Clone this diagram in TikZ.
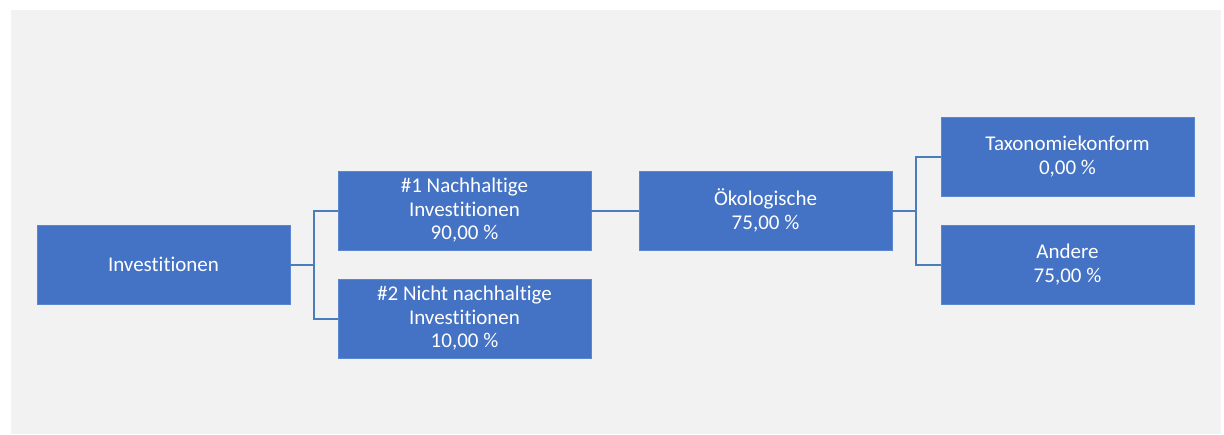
\documentclass[tikz,border=0pt]{standalone}
\usepackage{fontspec}
\setmainfont{Carlito}[Ligatures=NoCommon]
\usepackage{xcolor}
\definecolor{boxblue}{HTML}{4472C4}
\definecolor{boxedge}{HTML}{5B87D0}
\definecolor{linkblue}{HTML}{4A7EBB}
\definecolor{bggray}{HTML}{F2F2F2}

\begin{document}
\begin{tikzpicture}[
    x=1pt, y=-1pt,
    box/.style={draw=boxedge, fill=boxblue, text=white, minimum width=253pt, minimum height=79pt, align=center, inner sep=0pt, font=\fontsize{21}{23.5}\selectfont},
    conn/.style={draw=linkblue, line width=2pt}
]
\useasboundingbox (0,0) rectangle (1224,434);
\fill[bggray] (11,10) rectangle (1221,434);

\node[box] (inv) at (163.5,264.5) {Investitionen};
\node[box] (nh) at (464.5,210.5) {\#1 Nachhaltige\\Investitionen\\90,00 \%};
\node[box] (nnh) at (464.5,318.5) {\#2 Nicht nachhaltige\\Investitionen\\10,00 \%};
\node[box] (oeko) at (765.5,210.5) {Ökologische\\75,00 \%};
\node[box] (taxo) at (1067.5,156.5) {Taxonomiekonform\\0,00 \%};
\node[box] (andere) at (1067.5,264.5) {Andere\\75,00 \%};

\draw[conn] (inv.east) -- ++(24,0) |- (nh.west);
\draw[conn] (inv.east) -- ++(24,0) |- (nnh.west);
\draw[conn] (nh.east) -- (oeko.west);
\draw[conn] (oeko.east) -- ++(24,0) |- (taxo.west);
\draw[conn] (oeko.east) -- ++(24,0) |- (andere.west);
\end{tikzpicture}
\end{document}
